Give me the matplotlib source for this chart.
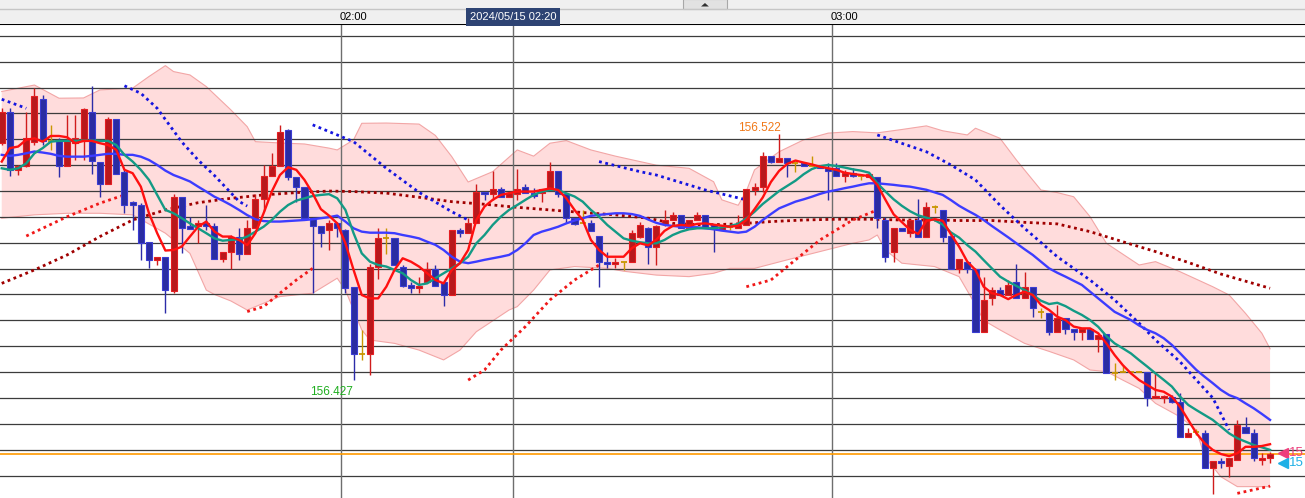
import numpy as np
import matplotlib.pyplot as plt
from matplotlib.patches import Rectangle, Polygon
from matplotlib.transforms import blended_transform_factory

plt.rcParams['font.family'] = ['Liberation Sans', 'DejaVu Sans']

# --- 1 minute candles (USD/JPY), index 0 .. 155 ---
opens = [
    156.5185, 156.5305, 156.5082, 156.5097, 156.5191, 156.5356, 156.5194, 156.5194, 156.5095, 156.5187,
    156.5194, 156.5305, 156.5114, 156.5026, 156.5278, 156.5075, 156.4957, 156.4946, 156.4804, 156.4733,
    156.4746, 156.4615, 156.4976, 156.4866, 156.4866, 156.4875, 156.4866, 156.4736, 156.4766, 156.4824,
    156.4757, 156.4856, 156.4968, 156.5059, 156.5097, 156.5237, 156.5056, 156.5015, 156.4895, 156.4866,
    156.4850, 156.4875, 156.4850, 156.4630, 156.4368, 156.4368, 156.4705, 156.4817, 156.4817, 156.4708,
    156.4637, 156.4627, 156.4647, 156.4697, 156.4650, 156.4598, 156.4850, 156.4837, 156.4875, 156.4998,
    156.4989, 156.5008, 156.4976, 156.4989, 156.5015, 156.4992, 156.4994, 156.5007, 156.5078, 156.4989,
    156.4895, 156.4875, 156.4875, 156.4826, 156.4727, 156.4718, 156.4727, 156.4727, 156.4824, 156.4857,
    156.4785, 156.4873, 156.4888, 156.4908, 156.4857, 156.4888, 156.4908, 156.4869, 156.4850, 156.4860,
    156.4856, 156.4869, 156.5004, 156.5017, 156.5136, 156.5114, 156.5127, 156.5108, 156.5108, 156.5097,
    156.5097, 156.5088, 156.5088, 156.5058, 156.5069, 156.5058, 156.5056, 156.5056, 156.4888, 156.4766,
    156.4856, 156.4837, 156.4888, 156.4824, 156.4937, 156.4927, 156.4826, 156.4698, 156.4727, 156.4698,
    156.4456, 156.4585, 156.4618, 156.4598, 156.4650, 156.4585, 156.4628, 156.4534, 156.4527, 156.4456,
    156.4508, 156.4466, 156.4456, 156.4466, 156.4427, 156.4447, 156.4298, 156.4299, 156.4299, 156.4299,
    156.4299, 156.4199, 156.4199, 156.4205, 156.4185, 156.4048, 156.4070, 156.4066, 156.3928, 156.3957,
    156.3937, 156.3960, 156.4089, 156.4066, 156.3960, 156.3967,
]
highs = [
    156.5320, 156.5320, 156.5100, 156.5307, 156.5398, 156.5370, 156.5256, 156.5204, 156.5295, 156.5295,
    156.5320, 156.5407, 156.5114, 156.5285, 156.5278, 156.5082, 156.4960, 156.4953, 156.4804, 156.4746,
    156.4746, 156.4989, 156.4976, 156.4899, 156.4888, 156.4946, 156.4875, 156.4766, 156.4830, 156.4856,
    156.4888, 156.4990, 156.5101, 156.5146, 156.5256, 156.5240, 156.5056, 156.5015, 156.4900, 156.4866,
    156.4888, 156.4882, 156.4855, 156.4630, 156.4463, 156.4718, 156.4856, 156.4856, 156.4817, 156.4714,
    156.4650, 156.4669, 156.4727, 156.4714, 156.4650, 156.4850, 156.4856, 156.4895, 156.5028, 156.4998,
    156.5078, 156.5017, 156.4992, 156.5084, 156.5028, 156.5011, 156.5007, 156.5114, 156.5078, 156.4989,
    156.4895, 156.4927, 156.4888, 156.4826, 156.4766, 156.4740, 156.4727, 156.4850, 156.4882, 156.4860,
    156.4870, 156.4927, 156.4919, 156.4908, 156.4888, 156.4919, 156.4908, 156.4869, 156.4860, 156.4869,
    156.4908, 156.5008, 156.5030, 156.5151, 156.5136, 156.5220, 156.5127, 156.5114, 156.5108, 156.5136,
    156.5097, 156.5109, 156.5108, 156.5082, 156.5088, 156.5062, 156.5066, 156.5056, 156.4901, 156.4856,
    156.4856, 156.4888, 156.4968, 156.4959, 156.4946, 156.4927, 156.4826, 156.4736, 156.4727, 156.4701,
    156.4669, 156.4630, 156.4630, 156.4656, 156.4718, 156.4688, 156.4628, 156.4547, 156.4527, 156.4560,
    156.4508, 156.4466, 156.4466, 156.4466, 156.4443, 156.4447, 156.4336, 156.4327, 156.4299, 156.4305,
    156.4299, 156.4299, 156.4211, 156.4211, 156.4218, 156.4083, 156.4079, 156.4076, 156.3957, 156.3967,
    156.3967, 156.4115, 156.4127, 156.4079, 156.3988, 156.3992,
]
lows = [
    156.5180, 156.5059, 156.5062, 156.5092, 156.5180, 156.5178, 156.5159, 156.5056, 156.5095, 156.5120,
    156.5120, 156.5065, 156.4976, 156.5026, 156.5065, 156.4917, 156.4850, 156.4733, 156.4701, 156.4714,
    156.4527, 156.4604, 156.4759, 156.4853, 156.4798, 156.4850, 156.4736, 156.4727, 156.4697, 156.4733,
    156.4757, 156.4856, 156.4921, 156.5059, 156.5097, 156.5043, 156.4959, 156.4895, 156.4607, 156.4785,
    156.4772, 156.4824, 156.4607, 156.4270, 156.4347, 156.4289, 156.4659, 156.4757, 156.4714, 156.4630,
    156.4607, 156.4607, 156.4647, 156.4634, 156.4556, 156.4598, 156.4824, 156.4837, 156.4875, 156.4966,
    156.4966, 156.4976, 156.4976, 156.4966, 156.4992, 156.4972, 156.4959, 156.5007, 156.4976, 156.4875,
    156.4869, 156.4875, 156.4847, 156.4628, 156.4701, 156.4701, 156.4695, 156.4727, 156.4817, 156.4718,
    156.4714, 156.4865, 156.4888, 156.4857, 156.4857, 156.4888, 156.4862, 156.4766, 156.4850, 156.4850,
    156.4856, 156.4869, 156.4985, 156.4998, 156.5108, 156.5114, 156.5056, 156.5075, 156.5097, 156.5097,
    156.5088, 156.4966, 156.5058, 156.5036, 156.5056, 156.5043, 156.5056, 156.4856, 156.4727, 156.4727,
    156.4847, 156.4824, 156.4824, 156.4824, 156.4914, 156.4804, 156.4698, 156.4684, 156.4684, 156.4456,
    156.4456, 156.4560, 156.4598, 156.4598, 156.4585, 156.4585, 156.4514, 156.4508, 156.4443, 156.4456,
    156.4447, 156.4424, 156.4424, 156.4427, 156.4379, 156.4298, 156.4269, 156.4299, 156.4299, 156.4299,
    156.4169, 156.4199, 156.4179, 156.4179, 156.4048, 156.4048, 156.4057, 156.3928, 156.3829, 156.3928,
    156.3895, 156.3960, 156.4066, 156.3957, 156.3941, 156.3947,
]
closes = [
    156.5305, 156.5082, 156.5097, 156.5204, 156.5368, 156.5194, 156.5194, 156.5095, 156.5194, 156.5204,
    156.5316, 156.5117, 156.5026, 156.5278, 156.5065, 156.4946, 156.4946, 156.4798, 156.4733, 156.4746,
    156.4617, 156.4976, 156.4856, 156.4853, 156.4875, 156.4866, 156.4736, 156.4766, 156.4824, 156.4757,
    156.4856, 156.4968, 156.5059, 156.5097, 156.5230, 156.5056, 156.5015, 156.4895, 156.4866, 156.4837,
    156.4876, 156.4856, 156.4627, 156.4368, 156.4368, 156.4705, 156.4817, 156.4817, 156.4714, 156.4634,
    156.4627, 156.4634, 156.4697, 156.4634, 156.4598, 156.4850, 156.4837, 156.4875, 156.4998, 156.4989,
    156.5008, 156.4976, 156.4992, 156.5008, 156.4992, 156.4979, 156.5007, 156.5078, 156.4989, 156.4895,
    156.4873, 156.4875, 156.4847, 156.4727, 156.4718, 156.4727, 156.4727, 156.4837, 156.4869, 156.4785,
    156.4866, 156.4888, 156.4908, 156.4857, 156.4888, 156.4908, 156.4862, 156.4857, 156.4860, 156.4860,
    156.4869, 156.5008, 156.5017, 156.5136, 156.5114, 156.5127, 156.5108, 156.5108, 156.5097, 156.5097,
    156.5088, 156.5079, 156.5058, 156.5069, 156.5058, 156.5058, 156.5066, 156.4895, 156.4746, 156.4856,
    156.4847, 156.4888, 156.4824, 156.4937, 156.4937, 156.4824, 156.4698, 156.4736, 156.4698, 156.4456,
    156.4579, 156.4618, 156.4598, 156.4637, 156.4585, 156.4628, 156.4547, 156.4534, 156.4456, 156.4508,
    156.4466, 156.4456, 156.4466, 156.4427, 156.4443, 156.4298, 156.4298, 156.4299, 156.4299, 156.4299,
    156.4201, 156.4205, 156.4205, 156.4185, 156.4048, 156.4066, 156.4070, 156.3928, 156.3957, 156.3947,
    156.3967, 156.4095, 156.4066, 156.3967, 156.3967, 156.3982,
]

# --- moving averages (one value per candle) ---
ma_fast = [
    156.5114, 156.5166, 156.5172, 156.5198, 156.5204, 156.5191, 156.5213, 156.5213, 156.5208, 156.5185,
    156.5194, 156.5194, 156.5185, 156.5178, 156.5159, 156.5082, 156.5069, 156.5017, 156.4914, 156.4837,
    156.4770, 156.4772, 156.4785, 156.4824, 156.4862, 156.4882, 156.4843, 156.4824, 156.4824, 156.4811,
    156.4791, 156.4837, 156.4914, 156.4998, 156.5062, 156.5092, 156.5082, 156.5043, 156.4991, 156.4930,
    156.4905, 156.4875, 156.4798, 156.4695, 156.4598, 156.4585, 156.4585, 156.4630, 156.4695, 156.4740,
    156.4727, 156.4708, 156.4682, 156.4656, 156.4643, 156.4695, 156.4721, 156.4772, 156.4888, 156.4940,
    156.4966, 156.4985, 156.4992, 156.4998, 156.4998, 156.4998, 156.5004, 156.5010, 156.5004, 156.4972,
    156.4927, 156.4888, 156.4811, 156.4772, 156.4746, 156.4746, 156.4746, 156.4779, 156.4798, 156.4790,
    156.4812, 156.4846, 156.4865, 156.4869, 156.4866, 156.4873, 156.4875, 156.4870, 156.4866, 156.4862,
    156.4866, 156.4888, 156.4930, 156.4975, 156.5035, 156.5078, 156.5105, 156.5118, 156.5110, 156.5103,
    156.5094, 156.5088, 156.5082, 156.5071, 156.5066, 156.5062, 156.5058, 156.5024, 156.4966, 156.4910,
    156.4880, 156.4850, 156.4834, 156.4885, 156.4891, 156.4885, 156.4833, 156.4785, 156.4727, 156.4695,
    156.4630, 156.4605, 156.4598, 156.4582, 156.4598, 156.4611, 156.4598, 156.4560, 156.4540, 156.4514,
    156.4501, 156.4476, 156.4469, 156.4469, 156.4450, 156.4411, 156.4366, 156.4327, 156.4295, 156.4269,
    156.4250, 156.4231, 156.4224, 156.4205, 156.4166, 156.4115, 156.4063, 156.4025, 156.3999, 156.3983,
    156.3975, 156.3986, 156.4011, 156.4011, 156.4014, 156.4021,
]
ma_mid = [
    156.5088, 156.5082, 156.5088, 156.5107, 156.5146, 156.5166, 156.5191, 156.5194, 156.5194, 156.5194,
    156.5195, 156.5195, 156.5194, 156.5194, 156.5178, 156.5140, 156.5114, 156.5082, 156.5043, 156.4985,
    156.4927, 156.4914, 156.4895, 156.4875, 156.4856, 156.4837, 156.4817, 156.4808, 156.4811, 156.4813,
    156.4824, 156.4843, 156.4862, 156.4888, 156.4920, 156.4946, 156.4963, 156.4972, 156.4981, 156.4985,
    156.4988, 156.4972, 156.4927, 156.4837, 156.4759, 156.4727, 156.4714, 156.4708, 156.4695, 156.4682,
    156.4656, 156.4637, 156.4643, 156.4663, 156.4682, 156.4701, 156.4721, 156.4746, 156.4798, 156.4830,
    156.4869, 156.4901, 156.4927, 156.4946, 156.4966, 156.4985, 156.4998, 156.5004, 156.5004, 156.4991,
    156.4979, 156.4959, 156.4927, 156.4901, 156.4869, 156.4843, 156.4817, 156.4808, 156.4802, 156.4798,
    156.4798, 156.4811, 156.4830, 156.4843, 156.4852, 156.4856, 156.4856, 156.4856, 156.4860, 156.4865,
    156.4873, 156.4894, 156.4920, 156.4950, 156.4975, 156.5000, 156.5020, 156.5040, 156.5065, 156.5085,
    156.5096, 156.5101, 156.5097, 156.5091, 156.5084, 156.5079, 156.5071, 156.5030, 156.4998, 156.4968,
    156.4943, 156.4922, 156.4906, 156.4897, 156.4888, 156.4870, 156.4840, 156.4820, 156.4791, 156.4766,
    156.4733, 156.4701, 156.4669, 156.4650, 156.4633, 156.4617, 156.4598, 156.4576, 156.4563, 156.4568,
    156.4555, 156.4537, 156.4521, 156.4501, 156.4475, 156.4439, 156.4411, 156.4392, 156.4372, 156.4346,
    156.4321, 156.4295, 156.4270, 156.4244, 156.4205, 156.4173, 156.4153, 156.4134, 156.4115, 156.4089,
    156.4063, 156.4044, 156.4031, 156.4018, 156.4009, 156.3999,
]
ma_slow = [
    156.5140, 156.5136, 156.5140, 156.5146, 156.5153, 156.5149, 156.5144, 156.5136, 156.5133, 156.5133,
    156.5133, 156.5136, 156.5140, 156.5144, 156.5144, 156.5140, 156.5140, 156.5133, 156.5120, 156.5101,
    156.5079, 156.5062, 156.5050, 156.5037, 156.5017, 156.4998, 156.4978, 156.4963, 156.4946, 156.4927,
    156.4907, 156.4891, 156.4884, 156.4882, 156.4882, 156.4884, 156.4886, 156.4888, 156.4891, 156.4895,
    156.4899, 156.4905, 156.4882, 156.4856, 156.4843, 156.4839, 156.4839, 156.4839, 156.4837, 156.4830,
    156.4824, 156.4817, 156.4804, 156.4792, 156.4772, 156.4746, 156.4727, 156.4721, 156.4727, 156.4734,
    156.4740, 156.4746, 156.4753, 156.4772, 156.4798, 156.4830, 156.4843, 156.4852, 156.4862, 156.4875,
    156.4886, 156.4895, 156.4904, 156.4908, 156.4911, 156.4914, 156.4914, 156.4911, 156.4904, 156.4890,
    156.4877, 156.4869, 156.4865, 156.4862, 156.4860, 156.4860, 156.4856, 156.4852, 156.4847, 156.4843,
    156.4839, 156.4843, 156.4862, 156.4888, 156.4911, 156.4933, 156.4946, 156.4959, 156.4968, 156.4978,
    156.4989, 156.4998, 156.5004, 156.5011, 156.5017, 156.5024, 156.5030, 156.5030, 156.5027, 156.5024,
    156.5020, 156.5017, 156.5011, 156.5005, 156.4995, 156.4985, 156.4965, 156.4943, 156.4925, 156.4908,
    156.4888, 156.4865, 156.4843, 156.4821, 156.4798, 156.4775, 156.4753, 156.4727, 156.4701, 156.4684,
    156.4669, 156.4653, 156.4637, 156.4611, 156.4585, 156.4559, 156.4533, 156.4517, 156.4501, 156.4480,
    156.4463, 156.4450, 156.4431, 156.4405, 156.4373, 156.4340, 156.4308, 156.4282, 156.4257, 156.4231,
    156.4211, 156.4199, 156.4179, 156.4160, 156.4138, 156.4115,
]

# long moving average (dark red dotted), sampled points
ma_long_idx = [0, 4, 8, 12, 16, 20, 24, 28, 32, 36, 40, 43, 47, 51, 55, 59, 63, 67, 71, 75,
               79, 82, 86, 90, 94, 98, 102, 106, 110, 114, 117, 121, 125, 129, 133, 137, 141, 145, 149, 155]
ma_long = [156.4643, 156.4695, 156.4753, 156.4824, 156.4888, 156.4927, 156.4955, 156.4972, 156.4985, 156.4994,
           156.5000, 156.4998, 156.4992, 156.4976, 156.4959, 156.4949, 156.4937, 156.4927, 156.4917, 156.4908,
           156.4895, 156.4875, 156.4869, 156.4873, 156.4882, 156.4888, 156.4891, 156.4891, 156.4888, 156.4888,
           156.4886, 156.4886, 156.4879, 156.4873, 156.4843, 156.4804, 156.4766, 156.4724, 156.4679, 156.4624]

# Bollinger band edges
bb_up_idx = [0, 4, 7, 10, 12, 16, 18, 20, 21, 23, 25, 28, 30, 31, 34, 37, 40, 41, 43, 44,
             47, 51, 53, 55, 57, 60, 63, 65, 67, 69, 72, 75, 80, 84, 87, 88, 90, 91, 92, 95,
             98, 101, 104, 107, 110, 113, 115, 118, 119, 122, 124, 127, 129, 131, 133, 135, 139, 141, 144, 148,
             150, 152, 154, 155]
bb_up = [156.5385, 156.5410, 156.5359, 156.5360, 156.5391, 156.5398, 156.5443, 156.5485, 156.5462, 156.5449,
         156.5404, 156.5314, 156.5249, 156.5191, 156.5186, 156.5182, 156.5166, 156.5159, 156.5198, 156.5262,
         156.5263, 156.5259, 156.5215, 156.5133, 156.5035, 156.5075, 156.5159, 156.5135, 156.5185, 156.5195,
         156.5159, 156.5135, 156.5100, 156.5088, 156.5036, 156.4966, 156.4945, 156.5000, 156.5082, 156.5152,
         156.5198, 156.5224, 156.5230, 156.5225, 156.5238, 156.5252, 156.5233, 156.5217, 156.5243, 156.5204,
         156.5120, 156.5004, 156.4994, 156.4978, 156.4901, 156.4798, 156.4714, 156.4727, 156.4688, 156.4630,
         156.4598, 156.4527, 156.4450, 156.4390]
bb_lo_idx = [0, 4, 8, 12, 16, 20, 23, 25, 26, 28, 30, 34, 38, 41, 42, 43, 44, 45, 48, 51,
             54, 56, 58, 62, 63, 65, 67, 70, 74, 76, 80, 84, 87, 89, 92, 96, 100, 104, 106, 107,
             108, 110, 114, 117, 119, 120, 122, 125, 128, 131, 133, 135, 137, 139, 141, 144, 146, 147, 149, 151,
             155]
bb_lo = [156.4895, 156.4908, 156.4914, 156.4914, 156.4908, 156.4837, 156.4759, 156.4617, 156.4600, 156.4575,
         156.4540, 156.4592, 156.4605, 156.4663, 156.4617, 156.4540, 156.4463, 156.4424, 156.4411, 156.4385,
         156.4347, 156.4385, 156.4456, 156.4540, 156.4553, 156.4617, 156.4695, 156.4708, 156.4701, 156.4690,
         156.4675, 156.4669, 156.4682, 156.4701, 156.4701, 156.4734, 156.4766, 156.4798, 156.4811, 156.4830,
         156.4772, 156.4721, 156.4708, 156.4669, 156.4560, 156.4500, 156.4463, 156.4411, 156.4380, 156.4347,
         156.4308, 156.4302, 156.4269, 156.4237, 156.4179, 156.4127, 156.4076, 156.3973, 156.3895, 156.3857,
         156.3857]

# parabolic SAR runs (above price = blue, below price = red)
sar_above = [
    ([0, 3], [156.5355, 156.5320]),
    ([15, 17, 19, 22, 24, 26, 29, 30], [156.5407, 156.5378, 156.5320, 156.5190, 156.5120, 156.5060, 156.4960, 156.4942]),
    ([38, 43, 47, 51, 55, 57], [156.5256, 156.5191, 156.5088, 156.4995, 156.4920, 156.4888]),
    ([73, 78, 80, 86, 91], [156.5114, 156.5075, 156.5062, 156.5004, 156.4966]),
    ([107, 113, 116, 119, 122, 125, 129, 133, 136, 139, 141, 144, 146, 148, 150],
     [156.5217, 156.5152, 156.5101, 156.5043, 156.4945, 156.4856, 156.4746, 156.4656, 156.4579, 156.4489,
      156.4424, 156.4340, 156.4269, 156.4200, 156.4076]),
]
sar_below = [
    ([3, 8, 12, 15], [156.4826, 156.4901, 156.4953, 156.4985]),
    ([30, 32, 34, 36, 38], [156.4534, 156.4553, 156.4605, 156.4656, 156.4701]),
    ([57, 59, 61, 64, 67, 70, 73], [156.4269, 156.4308, 156.4385, 156.4476, 156.4579, 156.4656, 156.4714]),
    ([91, 94, 96, 100, 104, 106, 107], [156.4630, 156.4656, 156.4708, 156.4811, 156.4888, 156.4914, 156.4927]),
    ([151, 155], [156.3831, 156.3859]),
]

time_labels = ['02:00', '03:00']
time_pos = [41.5, 101.5]
cursor_label = '2024/05/15 02:20'
cursor_pos = 62.5
hi_mark = 95
lo_mark = 43
# price tags at the right edge: only their first digits are visible in the window
tag_prices = [156.3987, 156.3948]
tag_texts = ['15', '15']
tag_colors = ['#ee3f7c', '#1eb0e6']

# ---------------------------------------------------------------
o = np.array(opens); h = np.array(highs); l = np.array(lows); c = np.array(closes)
idx = np.arange(len(o))
up = c > o
dn = c < o
dj = c == o

fig = plt.figure(figsize=(13.05, 4.98), dpi=100)
ax = fig.add_axes([0, 0, 1, 474 / 498])
ax_h = fig.add_axes([0, 474 / 498, 1, 24 / 498])

x_lo, x_hi = -0.21, 159.27
ax.set_xlim(x_lo, x_hi)
ax.set_ylim(156.3813, 156.5646)
ax.set_facecolor('white')

# bollinger band
poly_x = list(bb_up_idx) + list(bb_lo_idx)[::-1]
poly_y = list(bb_up) + list(bb_lo)[::-1]
ax.fill(poly_x, poly_y, color='#ffdcdc', lw=0, zorder=1)
ax.plot(bb_up_idx, bb_up, color='#f2a6a6', lw=0.8, zorder=1.1)
ax.plot(bb_lo_idx, bb_lo, color='#f2a6a6', lw=0.8, zorder=1.1)

# grid
for lev in np.arange(156.39, 156.565, 0.01):
    ax.axhline(lev, color='#3c3c3c', lw=0.9, zorder=2)
for tp in time_pos + [cursor_pos]:
    ax.axvline(tp, color='#6e6e6e', lw=1.0, zorder=2)

# current price line
ax.axhline(c[-1], color='#ff9a00', lw=1.2, zorder=2.5)

# long MA + SAR (dotted)
ax.plot(ma_long_idx, ma_long, color='#a00000', lw=2.0, ls=(0, (1, 1.3)), zorder=3)
for sx, sy in sar_above:
    ax.plot(sx, sy, color='#1414e0', lw=2.0, ls=(0, (1, 1.3)), zorder=3)
for sx, sy in sar_below:
    ax.plot(sx, sy, color='#f01818', lw=2.0, ls=(0, (1, 1.3)), zorder=3)

# candles
wick_col = np.where(up, '#d01c1c', np.where(dn, '#2c2ca8', '#c89600'))
ax.vlines(idx, l, h, colors=wick_col, lw=1.0, zorder=4)
bw = 0.74
bot = np.minimum(o, c)
hgt = np.maximum(np.abs(c - o), 0.0007)
ax.bar(idx[up], hgt[up], bottom=bot[up], width=bw, color='#b8181c',
       edgecolor='#e41e22', lw=0.8, zorder=5)
ax.bar(idx[dn], hgt[dn], bottom=bot[dn], width=bw, color='#2a2ca2',
       edgecolor='#3a3cd2', lw=0.8, zorder=5)
ax.hlines(c[dj], idx[dj] - bw / 2, idx[dj] + bw / 2, color='#c89600', lw=1.3, zorder=5)

# moving averages
ax.plot(idx, ma_slow, color='#3c3cff', lw=1.7, zorder=6)
ax.plot(idx, ma_mid, color='#139a85', lw=1.7, zorder=6)
ax.plot(idx, ma_fast, color='#ff1010', lw=1.7, zorder=6)

# high / low marks
ax.text(hi_mark + 0.15, h[hi_mark], f'{h[hi_mark]:.3f}', ha='right', va='bottom',
        color='#f07818', fontsize=8.5, zorder=7)
ax.text(lo_mark - 0.1, l[lo_mark] - 0.0024, f'{l[lo_mark]:.3f}', ha='right', va='top',
        color='#1fae1f', fontsize=8.5, zorder=7)

# price tags on the right edge
for p, t, col in zip(tag_prices, tag_texts, tag_colors):
    ax.plot([156.6], [p], marker='<', ms=6.5, color=col, clip_on=False, zorder=7)
    ax.text(157.35, p, t, ha='left', va='center', color=col, fontsize=9.5,
            clip_on=False, zorder=7)

ax.set_xticks([]); ax.set_yticks([])
for side in ['left', 'right', 'bottom']:
    ax.spines[side].set_visible(False)
ax.spines['top'].set_color('black')
ax.spines['top'].set_linewidth(1.5)

# header strip
ax_h.set_xlim(x_lo, x_hi)
ax_h.set_ylim(24, 0)
ax_h.set_facecolor('#f0f0f0')
ax_h.set_xticks([]); ax_h.set_yticks([])
for s in ax_h.spines.values():
    s.set_visible(False)
ax_h.axhline(9, color='#c6c6c6', lw=1.0)
tr = blended_transform_factory(ax_h.transAxes, ax_h.transData)
ax_h.add_patch(Rectangle((0.5234, -1), 0.0337, 10, transform=tr,
                         facecolor='#e2e2e2', edgecolor='#a8a8a8', lw=0.8))
ax_h.add_patch(Polygon([[0.5372, 6.5], [0.5432, 6.5], [0.5402, 3.0]], closed=True,
                       transform=tr, facecolor='#303030', edgecolor='none'))
for lab, tp in zip(time_labels, time_pos):
    ax_h.text(tp - 0.25, 17, lab, ha='left', va='center', fontsize=8, color='black')
ax_h.text(cursor_pos, 17, cursor_label, ha='center', va='center', fontsize=8,
          color='white', bbox=dict(boxstyle='square,pad=0.35', fc='#2d4373', ec='none'))

fig.savefig('out.png', dpi=100)
